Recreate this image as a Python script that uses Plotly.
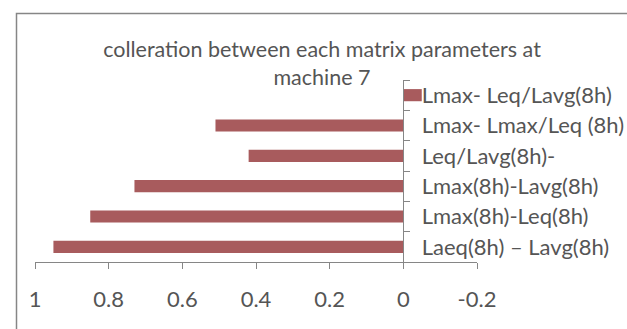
import plotly.graph_objects as go

# Data (bottom to top)
categories = [
    "Laeq(8h) – Lavg(8h)",
    "Lmax(8h)-Leq(8h)",
    "Lmax(8h)-Lavg(8h)",
    "Leq/Lavg(8h)-",
    "Lmax- Lmax/Leq (8h)",
    "Lmax- Leq/Lavg(8h)",
]
values = [0.95, 0.85, 0.73, 0.42, 0.51, -0.05]
x_tick_values = [1, 0.8, 0.6, 0.4, 0.2, 0, -0.2]
x_tick_labels = ["1", "0.8", "0.6", "0.4", "0.2", "0", "-0.2"]
title_text = "colleration between each matrix parameters at<br>machine 7"

FONT = "Lato, Liberation Sans, Arial, sans-serif"
TEXT_COLOR = "#555555"
AXIS_COLOR = "#868686"
BAR_COLOR = "#A85B5D"

W, H = 627, 329
L, R, T, B = 35, 150, 80, 67
pw = W - L - R
ph = H - T - B

fig = go.Figure(
    go.Bar(
        x=values,
        y=categories,
        orientation="h",
        marker=dict(color=BAR_COLOR, line=dict(width=0)),
        width=0.4,
    )
)

x_min, x_max = x_tick_values[-1], x_tick_values[0]
zero_pos = (x_max - 0) / (x_max - x_min)

fig.update_layout(
    width=W,
    height=H,
    margin=dict(l=L, r=R, t=T, b=B, pad=0, autoexpand=False),
    paper_bgcolor="white",
    plot_bgcolor="white",
    showlegend=False,
    font=dict(family=FONT, color=TEXT_COLOR),
    title=dict(
        text=title_text,
        x=322 / W,
        xanchor="center",
        xref="container",
        y=1 - 57 / H,
        yanchor="middle",
        yref="container",
        font=dict(family=FONT, size=21.5, color=TEXT_COLOR),
    ),
    xaxis=dict(
        range=[x_max, x_min],
        tickvals=x_tick_values,
        ticktext=x_tick_labels,
        showline=True,
        linecolor=AXIS_COLOR,
        linewidth=1,
        ticks="outside",
        ticklen=6,
        tickcolor=AXIS_COLOR,
        showgrid=False,
        zeroline=False,
        tickfont=dict(family=FONT, size=22, color=TEXT_COLOR),
        ticklabelstandoff=12,
        automargin=False,
        fixedrange=True,
    ),
    yaxis=dict(
        type="category",
        categoryorder="array",
        categoryarray=categories,
        range=[-0.5, len(categories) - 0.5],
        anchor="free",
        position=zero_pos,
        side="right",
        showline=True,
        linecolor=AXIS_COLOR,
        linewidth=1,
        ticks="outside",
        tickson="boundaries",
        ticklen=6,
        tickcolor=AXIS_COLOR,
        showgrid=False,
        zeroline=False,
        tickfont=dict(family=FONT, size=22, color=TEXT_COLOR),
        ticklabelstandoff=13,
        automargin=False,
        fixedrange=True,
    ),
    shapes=[
        dict(
            type="rect",
            xref="paper",
            yref="paper",
            x0=(16.5 - L) / pw,
            x1=(W + 20 - L) / pw,
            y0=(T + ph - (H + 20)) / ph,
            y1=(T + ph - 13.5) / ph,
            line=dict(color=AXIS_COLOR, width=1.5),
            fillcolor="rgba(0,0,0,0)",
            layer="below",
        )
    ],
)

fig.write_html("out.html", config={"displayModeBar": False})
